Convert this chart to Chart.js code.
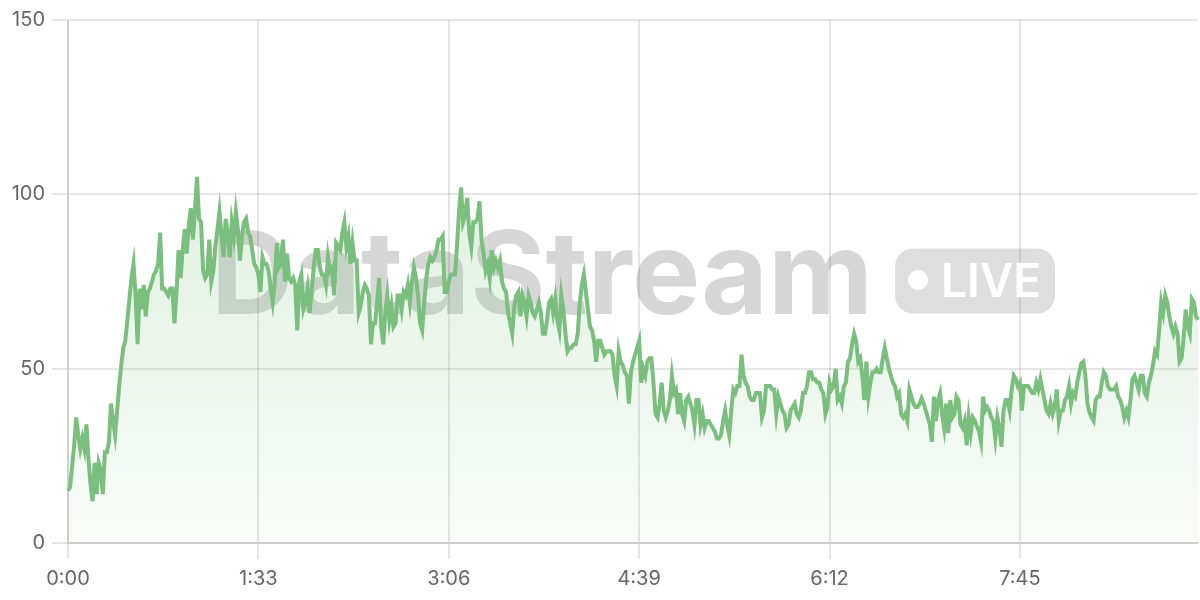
<!DOCTYPE html>
<html>
<head>
<meta charset="utf-8">
<script src="https://cdn.jsdelivr.net/npm/chart.js@4"></script>
<style>
  html, body { margin: 0; padding: 0; background: #fff; }
  #wrap { width: 1200px; height: 600px; position: relative; }
</style>
</head>
<body>
<div id="wrap"><canvas id="streamChart"></canvas></div>
<script>
// one reading per second, 0:00 .. 9:12
const streamValues = [
  15,16,22,28,36,31,27,30,27,34,24,17,12,23,14,23,21,14,26,26,
  29,40,35,31,38,45,51,56,58,64,70,76,80,71,57,73,67,74,65,72,
  73,75,77,78,80,89,73,73,72,71,73,73,63,72,84,76,84,90,83,91,
  96,87,95,105,93,92,78,76,77,87,75,78,85,90,95,88,82,93,89,82,
  92,88,95,90,81,88,92,93,89,88,84,80,79,77,72,82,80,80,78,73,
  69,75,86,79,80,87,75,83,76,75,76,74,61,75,77,67,69,73,66,72,
  79,84,84,79,77,77,74,82,78,79,71,86,85,84,89,92,85,88,80,86,
  81,81,66,68,72,74,73,71,57,63,63,69,76,62,57,66,71,64,68,62,
  63,71,71,67,72,71,74,69,75,79,76,71,63,61,69,76,80,82,81,82,84,87,
  87,88,72,72,75,77,77,77,85,95,102,92,94,99,89,85,92,92,
  93,98,87,83,78,80,76,84,79,81,79,81,75,73,72,66,63,60,68,71,
  72,65,71,69,65,71,69,66,65,67,69,66,60,60,64,69,70,66,70,64,
  61,71,67,60,55,56,56,57,57,60,69,74,77,72,67,62,61,58,52,58,
  58,56,54,55,55,55,54,48,45,55,52,51,49,48,40,49,52,54,56,58,
  46,50,48,52,53,53,46,37,36,40,46,38,36,38,41,48,43,44,37,43,
  37,35,41,42,40,38,34,41,41,34,37,33,35,35,34,33,32,30,30,31,
  35,38,34,31,38,44,43,45,45,54,48,46,45,42,41,41,43,43,43,36,
  38,45,45,45,44,44,37,42,40,38,37,33,34,38,39,40,37,36,38,43,
  43,45,49,49,47,47,46,
  46,44,43,37,39,46,44,45,50,41,42,40,45,46,52,53,57,60,58,52,
  53,48,41,52,42,46,49,49,50,49,49,53,56,53,50,48,46,45,42,43,
  37,36,37,35,44,42,40,39,39,40,41.5,40,38,36,34,29,42,35,41,43,
  37,33,40,31.5,41,36,37,42,41,34,33,35,28,36,31.5,36,35,33.5,32,29,
  42,38,39,38,36,35,30,36,33,27.6,38,41,41,38,44,48,47,45,46,38,
  45,45,45,44,43,43,46,44,47,44,41,38,37,40,37,39,44,35,38,38,
  41,42,45,40,43,42,46,49,51.5,52,48,40,37.5,36,35,41,42,42,46,49,
  48,45,44,44,44,45,42,41,39,36,38,36,41,47,48,46,44,48,48,43,
  42,46,48,51,55,54,61,69,66,71,69,65,62,60,62,60,52,53,59,67,
  62,60,70,69,65,64
];
const tickLabels = ['0:00', '1:33', '3:06', '4:39', '6:12', '7:45'];
const tickEvery = 93; // seconds between shown labels
const yTicks = [0, 50, 100, 150];

const lineColor = '#7bbf7e';

function fmtTime(s) {
  return Math.floor(s / 60) + ':' + String(s % 60).padStart(2, '0');
}
const labels = streamValues.map((v, i) => fmtTime(i));

// big grey "DataStream (LIVE)" mark behind the series
const watermark = {
  id: 'watermark',
  beforeDatasetsDraw(chart) {
    const { ctx, chartArea } = chart;
    const cx = (chartArea.left + chartArea.right) / 2;
    const cy = (chartArea.top + chartArea.bottom) / 2;
    ctx.save();
    ctx.font = 'bold 115px Inter';
    ctx.letterSpacing = '0px';
    const w = ctx.measureText('DataStream').width;
    const gap = 22, pillW = 160, pillH = 65;
    const x0 = cx - (w + gap + pillW) / 2;
    const base = cy + 32;
    ctx.fillStyle = 'rgba(0,0,0,0.16)';
    ctx.textBaseline = 'alphabetic';
    ctx.fillText('DataStream', x0, base);

    const px = x0 + w + gap, py = base - pillH;
    ctx.fillStyle = 'rgba(0,0,0,0.13)';
    ctx.beginPath();
    ctx.roundRect(px, py, pillW, pillH, 18);
    ctx.fill();

    ctx.fillStyle = '#fff';
    ctx.beginPath();
    ctx.arc(px + 23, cy - 1.5, 10, 0, Math.PI * 2);
    ctx.fill();
    ctx.font = '600 46px Inter';
    ctx.fillText('LIVE', px + 46, cy + 15);
    ctx.restore();
  }
};

const ctx = document.getElementById('streamChart').getContext('2d');
new Chart(ctx, {
  type: 'line',
  data: {
    labels: labels,
    datasets: [{
      data: streamValues,
      borderColor: lineColor,
      borderWidth: 4,
      pointRadius: 0,
      tension: 0,
      fill: 'origin',
      backgroundColor: (c) => {
        const area = c.chart.chartArea;
        if (!area) return 'rgba(123,191,126,0.15)';
        const g = c.chart.ctx.createLinearGradient(0, area.top, 0, area.bottom);
        g.addColorStop(0, 'rgba(123,191,126,0.30)');
        g.addColorStop(1, 'rgba(123,191,126,0.05)');
        return g;
      }
    }]
  },
  options: {
    responsive: true,
    maintainAspectRatio: false,
    animation: false,
    layout: { padding: { top: 20, right: 2 } },
    plugins: { legend: { display: false }, tooltip: { enabled: false } },
    scales: {
      x: {
        afterFit: (scale) => { scale.height = 57; },
        grid: { lineWidth: 2, tickLength: 16 },
        border: { width: 2 },
        ticks: {
          autoSkip: false,
          maxRotation: 0,
          color: '#666',
          padding: 8,
          font: { family: 'Inter', size: 20 },
          callback: (val, i) => (i % tickEvery === 0 ? tickLabels[i / tickEvery] : null)
        }
      },
      y: {
        min: 0,
        max: 150,
        afterBuildTicks: (scale) => { scale.ticks = yTicks.map(v => ({ value: v })); },
        afterFit: (scale) => { scale.width = 68; },
        grid: { lineWidth: 2, tickLength: 16 },
        border: { width: 2 },
        ticks: {
          color: '#666',
          padding: 7,
          font: { family: 'Inter', size: 20 }
        }
      }
    }
  },
  plugins: [watermark]
});
</script>
</body>
</html>
